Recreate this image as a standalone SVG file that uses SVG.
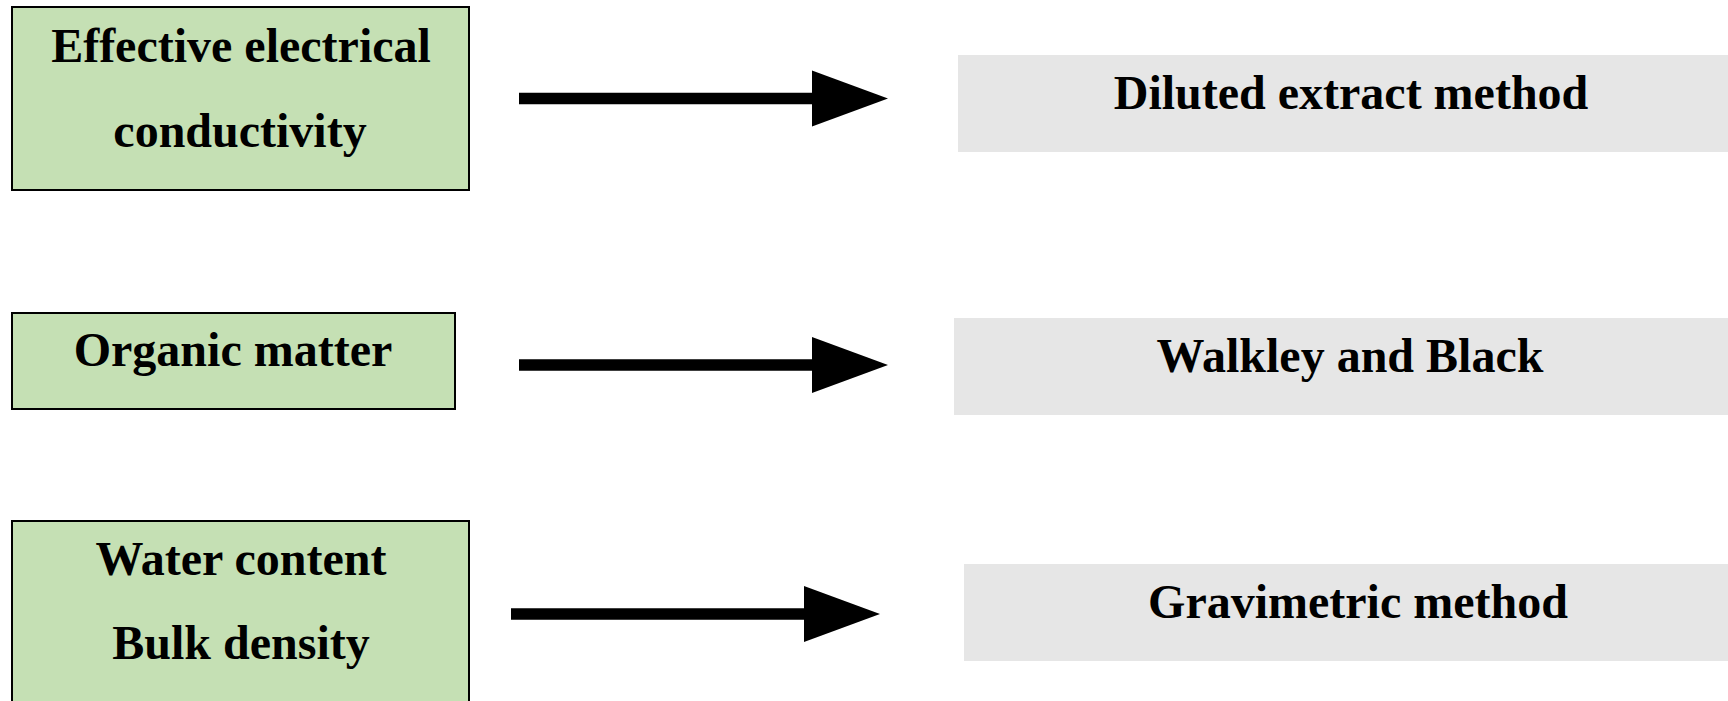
<svg xmlns="http://www.w3.org/2000/svg" width="1728" height="701" viewBox="0 0 1728 701">
  <style>
    .src { fill: #c5e0b4; stroke: #000; stroke-width: 2; }
    .dst { fill: #e6e6e6; stroke: none; }
    .lbl { font-family: "Liberation Serif", "Times New Roman", serif; font-weight: bold; font-size: 48px; fill: #000; text-anchor: middle; }
    .conn { stroke: #000; stroke-width: 11.5; fill: none; marker-end: url(#head); }
  </style>
  <defs>
    <marker id="head" markerUnits="userSpaceOnUse" markerWidth="78" markerHeight="58" refX="0" refY="28" orient="auto" viewBox="0 0 78 58" overflow="visible">
      <path d="M0,0 L76,28 L0,56 Z" fill="#000"/>
    </marker>
  </defs>
  <rect width="1728" height="701" fill="#fff"/>

  <g id="node-ec">
    <rect class="src" x="12" y="7" width="457" height="183"/>
    <text class="lbl" x="241" y="62">Effective electrical</text>
    <text class="lbl" x="240" y="147">conductivity</text>
  </g>
  <g id="node-om">
    <rect class="src" x="12" y="313" width="443" height="96"/>
    <text class="lbl" x="233" y="366">Organic matter</text>
  </g>
  <g id="node-wc">
    <rect class="src" x="12" y="521" width="457" height="190"/>
    <text class="lbl" x="241" y="575">Water content</text>
    <text class="lbl" x="241" y="659">Bulk density</text>
  </g>

  <g id="node-diluted">
    <rect class="dst" x="958" y="55" width="780" height="97"/>
    <text class="lbl" x="1351" y="109">Diluted extract method</text>
  </g>
  <g id="node-walkley">
    <rect class="dst" x="954" y="318" width="784" height="97"/>
    <text class="lbl" x="1350" y="372">Walkley and Black</text>
  </g>
  <g id="node-gravimetric">
    <rect class="dst" x="964" y="564" width="774" height="97"/>
    <text class="lbl" x="1358" y="618">Gravimetric method</text>
  </g>

  <g id="connectors">
    <line class="conn" x1="519" y1="98.5" x2="812" y2="98.5"/>
    <line class="conn" x1="519" y1="365" x2="812" y2="365"/>
    <line class="conn" x1="511" y1="614" x2="804" y2="614"/>
  </g>
</svg>
